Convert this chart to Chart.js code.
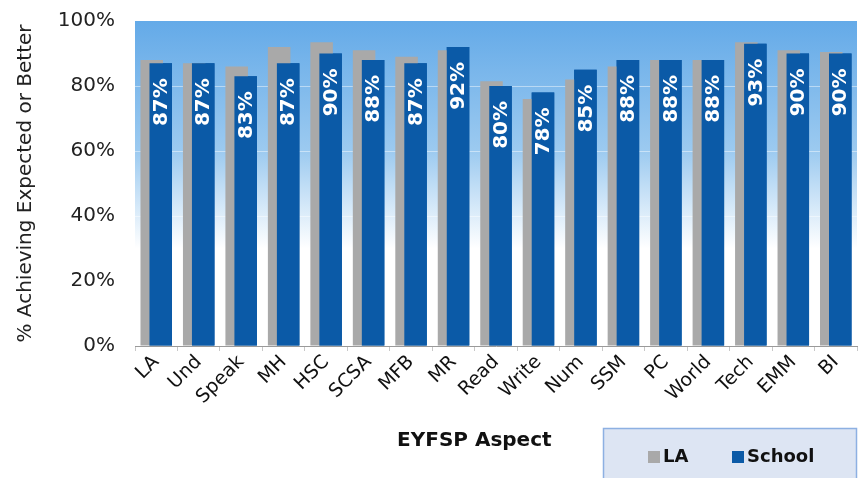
<!DOCTYPE html>
<html>
<head>
<meta charset="utf-8">
<script src="https://cdn.jsdelivr.net/npm/chart.js@4.4.1/dist/chart.umd.min.js"></script>
<style>
  html, body { margin: 0; padding: 0; background: #fff; }
  #wrap { width: 858px; height: 478px; position: relative; }
</style>
</head>
<body>
<div id="wrap"><canvas id="eyfspChart" width="858" height="478"></canvas></div>
<script>
// chart data
const categories = ['LA', 'Und', 'Speak', 'MH', 'HSC', 'SCSA', 'MFB', 'MR', 'Read', 'Write', 'Num', 'SSM', 'PC', 'World', 'Tech', 'EMM', 'BI'];
const laValues = [88, 87, 86, 92, 93.5, 91, 89, 91, 81.5, 76, 82, 86, 88, 88, 93.5, 91, 90.5];
const schoolValues = [87, 87, 83, 87, 90, 88, 87, 92, 80, 78, 85, 88, 88, 88, 93, 90, 90];
const yTicks = [0, 20, 40, 60, 80, 100];

const FONT = '"DejaVu Sans", Verdana, sans-serif';

// blue fade behind the bars
const plotBackground = {
    id: 'plotBackground',
    beforeDatasetsDraw(chart) {
        const { ctx, chartArea: a } = chart;
        const g = ctx.createLinearGradient(0, a.top, 0, a.bottom);
        g.addColorStop(0, '#64aae8');
        g.addColorStop(0.4, '#9ccaf0');
        g.addColorStop(0.7, '#ffffff');
        g.addColorStop(1, '#ffffff');
        ctx.save();
        ctx.fillStyle = g;
        ctx.fillRect(a.left, a.top, a.width, a.height);
        // faint grid lines on top of the fill
        const y = chart.scales.y;
        ctx.strokeStyle = 'rgba(255,255,255,0.45)';
        ctx.lineWidth = 1;
        yTicks.slice(1, -1).forEach(v => {
            const py = Math.round(y.getPixelForValue(v)) + 0.5;
            ctx.beginPath();
            ctx.moveTo(a.left, py);
            ctx.lineTo(a.right, py);
            ctx.stroke();
        });
        ctx.restore();
    }
};

// school bars go over the LA bars, then white rotated labels inside them
const barLabels = {
    id: 'barLabels',
    afterDatasetsDraw(chart) {
        const { ctx } = chart;
        const meta = chart.getDatasetMeta(1);
        meta.controller.draw();
        ctx.save();
        ctx.font = 'bold 20px ' + FONT;
        ctx.fillStyle = '#ffffff';
        ctx.textAlign = 'right';
        ctx.textBaseline = 'middle';
        meta.data.forEach((bar, i) => {
            ctx.save();
            ctx.translate(bar.x + 1, bar.y + 15);
            ctx.rotate(-Math.PI / 2);
            ctx.fillText(schoolValues[i] + '%', 0, 0);
            ctx.restore();
        });
        ctx.restore();
    }
};

// x axis title and boxed legend
const extras = {
    id: 'extras',
    afterDraw(chart) {
        const { ctx, chartArea: a } = chart;
        ctx.save();
        ctx.fillStyle = '#111';
        ctx.font = 'bold 20px ' + FONT;
        ctx.textAlign = 'center';
        ctx.textBaseline = 'middle';
        ctx.fillText('EYFSP Aspect', a.left + a.width * 0.47, 441);

        // legend box
        ctx.fillStyle = '#dde5f3';
        ctx.fillRect(603, 428, 254, 52);
        ctx.strokeStyle = '#8db0e2';
        ctx.lineWidth = 1.5;
        ctx.strokeRect(603.5, 428.5, 253, 52);

        ctx.font = 'bold 18px ' + FONT;
        ctx.textAlign = 'left';
        let x = 648;
        chart.data.datasets.forEach(ds => {
            ctx.fillStyle = ds.backgroundColor;
            ctx.fillRect(x, 451, 12, 12);
            ctx.fillStyle = '#111';
            ctx.fillText(ds.label, x + 15, 457);
            x += 84;
        });
        ctx.restore();
    }
};

const ctx = document.getElementById('eyfspChart').getContext('2d');

new Chart(ctx, {
    type: 'bar',
    data: {
        labels: categories,
        datasets: [
            {
                label: 'LA',
                data: laValues,
                backgroundColor: '#a9a9a9',
                categoryPercentage: 0.424,
                barPercentage: 2.5
            },
            {
                label: 'School',
                data: schoolValues,
                backgroundColor: '#0b5aa7',
                categoryPercentage: 0.424,
                barPercentage: 2.5
            }
        ]
    },
    options: {
        responsive: false,
        animation: false,
        layout: { padding: { top: 21, right: 1, left: 0, bottom: 0 } },
        plugins: {
            legend: { display: false },
            tooltip: { enabled: false }
        },
        scales: {
            x: {
                grid: { display: true, drawOnChartArea: false, drawTicks: true, tickLength: 5, color: '#c8c8c8' },
                border: { display: true, color: '#9a9a9a' },
                ticks: {
                    color: '#111',
                    font: { family: FONT, size: 19 },
                    maxRotation: 45,
                    minRotation: 45,
                    autoSkip: false,
                    padding: 0
                },
                afterFit(scale) { scale.height = 132; }
            },
            y: {
                min: 0,
                max: 100,
                afterBuildTicks(scale) { scale.ticks = yTicks.map(v => ({ value: v })); },
                grid: { display: true, drawOnChartArea: false, drawTicks: true, tickLength: 17, color: 'rgba(0,0,0,0)' },
                border: { display: true, color: '#9a9a9a' },
                ticks: {
                    color: '#222',
                    font: { family: FONT, size: 20 },
                    padding: 3,
                    callback: v => v + '%'
                },
                title: {
                    display: true,
                    text: '% Achieving Expected or Better',
                    color: '#222',
                    font: { family: FONT, size: 20 },
                    padding: { top: 14, bottom: 6 }
                },
                afterFit(scale) { scale.width = 135; }
            }
        }
    },
    plugins: [plotBackground, barLabels, extras]
});
</script>
</body>
</html>
